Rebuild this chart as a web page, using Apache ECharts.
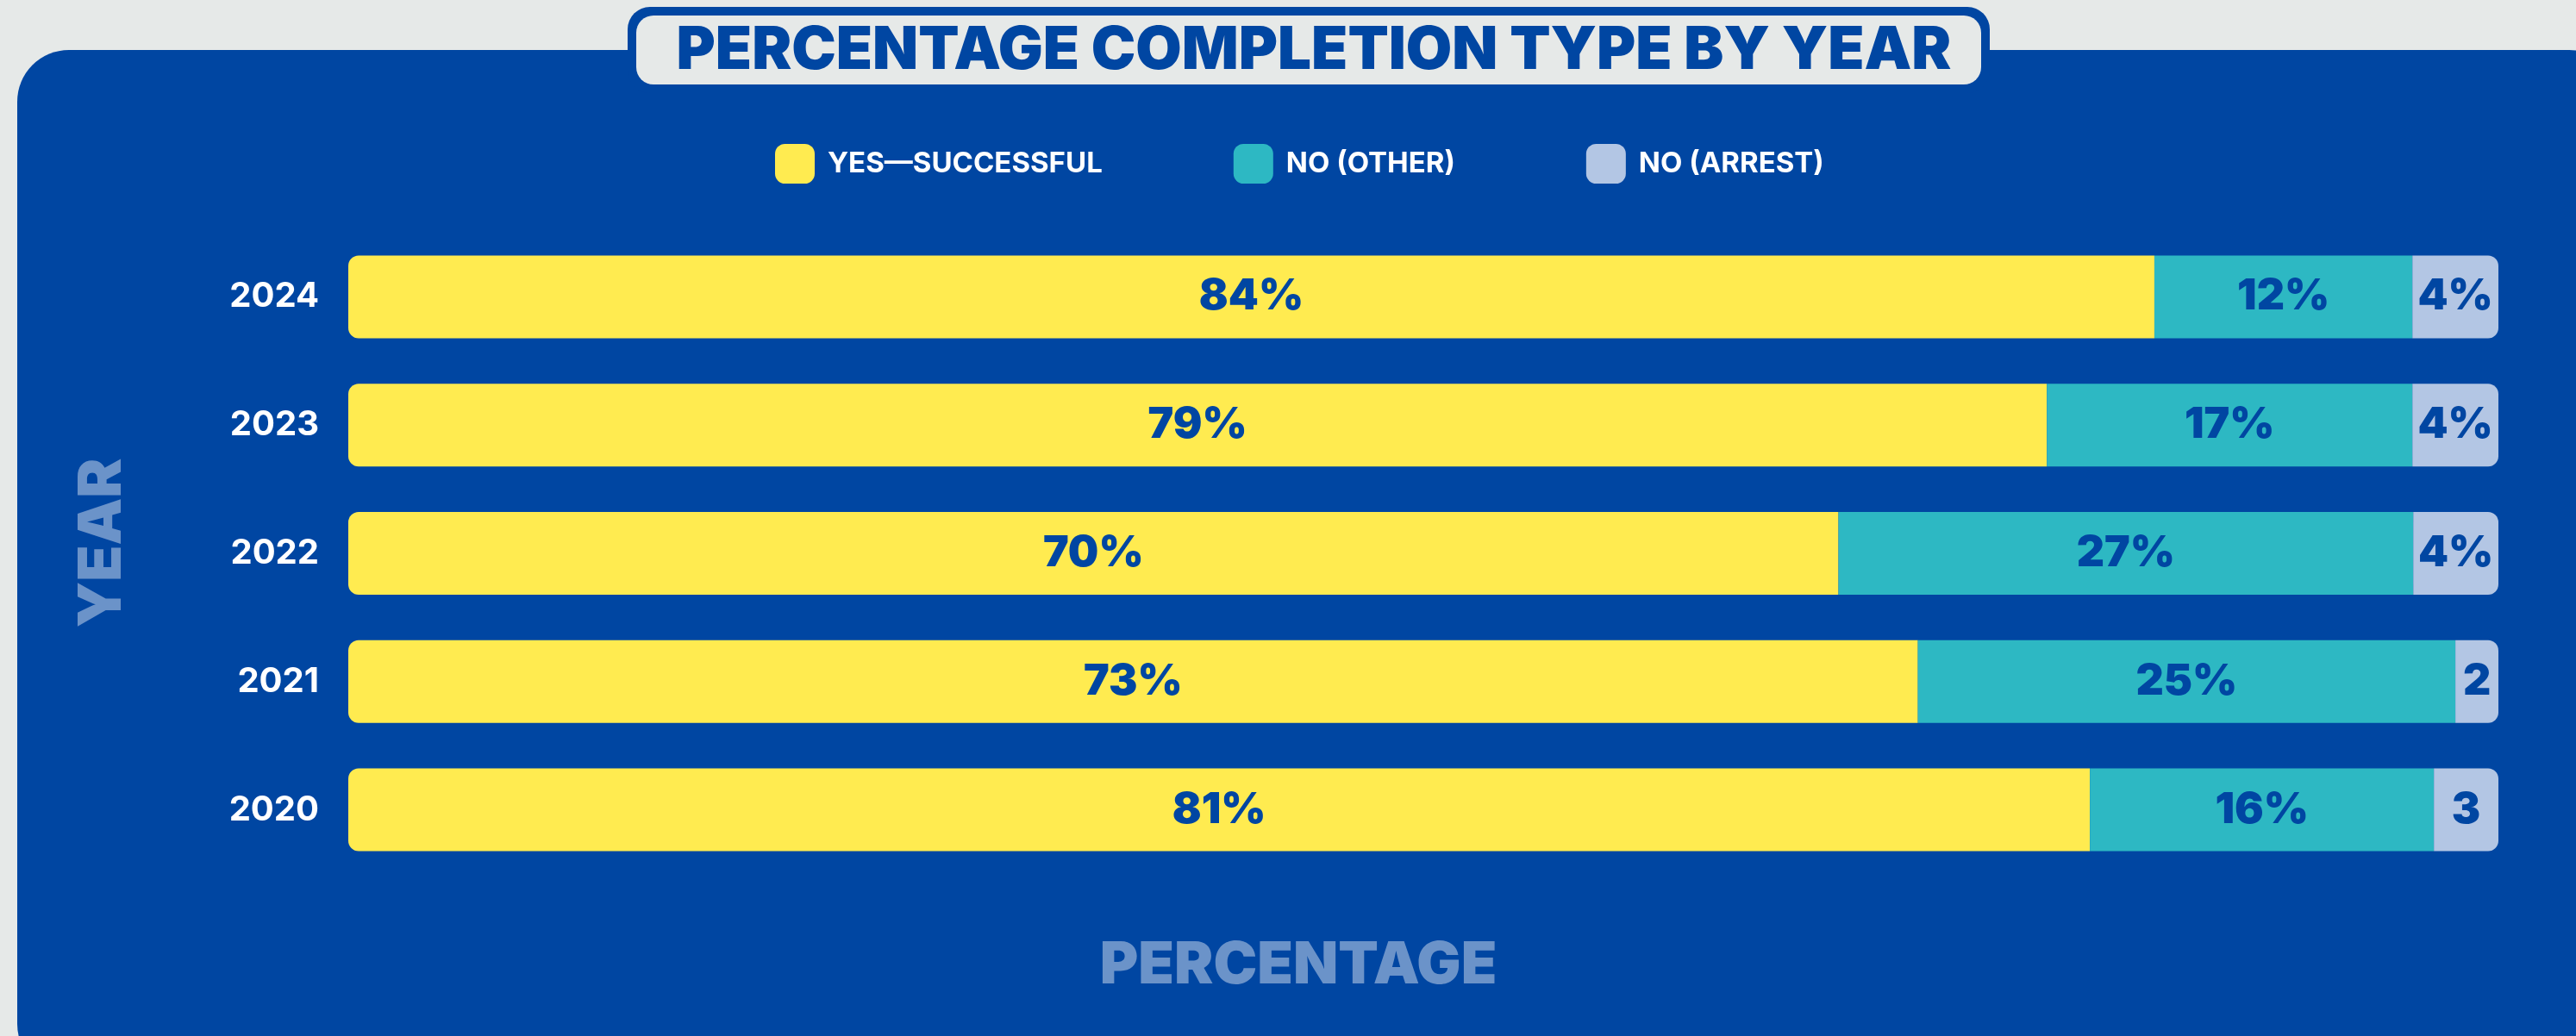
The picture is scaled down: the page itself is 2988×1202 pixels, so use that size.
<!DOCTYPE html>
<html>
<head>
<meta charset="utf-8">
<script src="https://cdn.jsdelivr.net/npm/echarts@6/dist/echarts.min.js"></script>
<style>
    html, body { margin: 0; padding: 0; background: #e6e9e8; }
    #chart { width: 2988px; height: 1202px; }
</style>
</head>
<body>
<div id="chart"></div>
<script>
const years = ['2024', '2023', '2022', '2021', '2020'];
const successful = [84, 79, 70, 73, 81];
const other = [12, 17, 27, 25, 16];
const arrest = [4, 4, 4, 2, 3];
const seriesNames = ['YES—SUCCESSFUL', 'NO (OTHER)', 'NO (ARREST)'];
const seriesColors = ['#ffeb50', '#2db8c3', '#b3c6e4'];

const blue = '#0046a2';
const paleBlue = '#6b93c9';
const heavyFont = 'Inter';

// 100% stacked: each row is scaled to its own total (2022 adds up to 101)
const totals = years.map((y, i) => successful[i] + other[i] + arrest[i]);
const share = arr => arr.map((v, i) => ({ value: v / totals[i] * 100, raw: v }));

const barLabel = {
    show: true,
    position: 'inside',
    color: blue,
    fontFamily: heavyFont,
    fontWeight: 900,
    fontSize: 50,
    formatter: p => p.data.raw < 4 ? String(p.data.raw) : p.data.raw + '%' // narrow pieces only show the number
};

const makeSeries = (name, arr, color, radius) => ({
    name: name,
    type: 'bar',
    stack: 'total',
    barWidth: 96,
    data: share(arr),
    itemStyle: { color: color, borderRadius: radius },
    label: barLabel,
    emphasis: { disabled: true }
});

let myChart = echarts.init(document.getElementById('chart'));
let option = {
    backgroundColor: '#e6e9e8',
    animation: false,
    graphic: [
        // blue panel
        { type: 'rect', z: -10, shape: { x: 20, y: 58, width: 3020, height: 1190, r: 60 }, style: { fill: blue } },
        // title tab
        { type: 'rect', z: -9, shape: { x: 728, y: 8, width: 1580, height: 100, r: 26 }, style: { fill: blue } },
        { type: 'rect', z: -8, shape: { x: 738, y: 18, width: 1560, height: 80, r: 20 }, style: { fill: '#e6e9e8' } }
    ],
    title: {
        text: 'PERCENTAGE COMPLETION TYPE BY YEAR',
        left: 1519,
        top: 20,
        textAlign: 'center',
        textStyle: {
            color: blue,
            fontFamily: heavyFont,
            fontWeight: 900,
            fontSize: 69
        }
    },
    legend: {
        data: seriesNames,
        left: 894,
        top: 162,
        itemWidth: 46,
        itemHeight: 46,
        itemGap: 152,
        icon: 'roundRect',
        textStyle: {
            color: '#ffffff',
            fontFamily: heavyFont,
            fontWeight: 'bold',
            fontSize: 33,
            padding: [0, 0, 0, 10]
        }
    },
    grid: {
        left: 404,
        right: 90,
        top: 270,
        bottom: 188
    },
    xAxis: {
        type: 'value',
        min: 0,
        max: 100,
        axisLine: { show: false },
        axisTick: { show: false },
        axisLabel: { show: false },
        splitLine: { show: false },
        name: 'PERCENTAGE',
        nameLocation: 'middle',
        nameGap: 73,
        nameTextStyle: {
            color: paleBlue,
            fontFamily: heavyFont,
            fontWeight: 900,
            fontSize: 68,
            padding: [0, 290, 0, 0]
        }
    },
    yAxis: {
        type: 'category',
        data: years,
        inverse: true,
        axisLine: { show: false },
        axisTick: { show: false },
        axisLabel: {
            color: '#ffffff',
            fontFamily: heavyFont,
            fontWeight: 'bold',
            fontSize: 40,
            margin: 34
        },
        name: 'YEAR',
        nameLocation: 'middle',
        nameRotate: 90,
        nameGap: 250,
        nameTextStyle: {
            color: paleBlue,
            fontFamily: heavyFont,
            fontWeight: 900,
            fontSize: 69,
            padding: [0, 0, 0, 24]
        }
    },
    series: [
        makeSeries(seriesNames[0], successful, seriesColors[0], [12, 0, 0, 12]),
        makeSeries(seriesNames[1], other, seriesColors[1], 0),
        makeSeries(seriesNames[2], arrest, seriesColors[2], [0, 12, 12, 0])
    ]
};
option && myChart.setOption(option);
</script>
</body>
</html>
